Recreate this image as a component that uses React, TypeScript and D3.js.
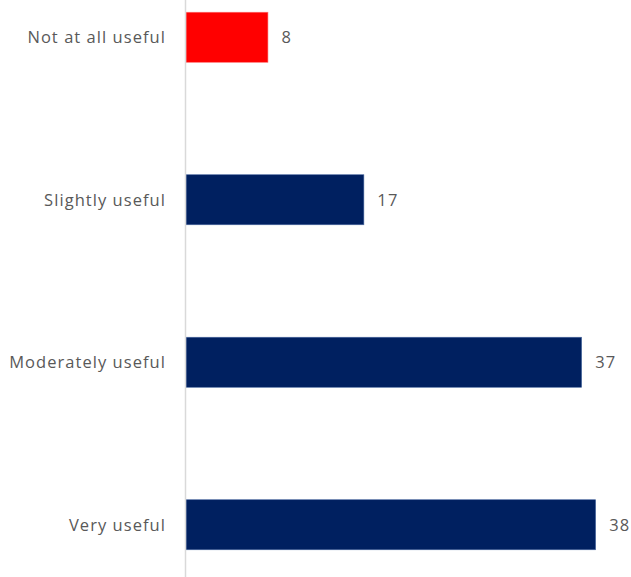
import React from "react";
import * as d3 from "d3";

const categories = ["Not at all useful", "Slightly useful", "Moderately useful", "Very useful"];
const values = [7.6, 16.5, 36.7, 38.0];
const valueLabels = ["8", "17", "37", "38"];
const barColors = ["#FF0000", "#002060", "#002060", "#002060"];

const W = 631;
const H = 577;

export default function App() {
  const x = d3.scaleLinear().domain([0, 40]).range([186, 617.2]);
  const y = d3
    .scaleBand<string>()
    .domain(categories)
    .range([-44, 606])
    .paddingInner(0.692)
    .paddingOuter(0.346);
  const bw = y.bandwidth();
  const font = "'Open Sans', sans-serif";
  return (
    <svg
      width={W}
      height={H}
      style={{ position: "absolute", left: 0, top: 0, background: "#fff" }}
    >
      {categories.map((c, i) => {
        const y0 = y(c)!;
        const cy = y0 + bw / 2;
        return (
          <g key={c}>
            <rect
              x={x(0)}
              y={y0}
              width={x(values[i]) - x(0)}
              height={bw}
              fill={barColors[i]}
              stroke={i === 0 ? "#ff6b6b" : "#4a6aa0"}
              strokeWidth={0.6}
            />
            <text
              x={x(0) - 20}
              y={cy}
              dy="0.36em"
              textAnchor="end"
              fontFamily={font}
              fontSize={16.5}
              letterSpacing={1.05}
              fill="#595959"
            >
              {c}
            </text>
            <text
              x={x(values[i]) + 13.5}
              y={cy}
              dy="0.36em"
              textAnchor="start"
              fontFamily={font}
              fontSize={16.5}
              letterSpacing={1.2}
              fill="#595959"
            >
              {valueLabels[i]}
            </text>
          </g>
        );
      })}
      <line x1={185.5} x2={185.5} y1={0} y2={H} stroke="#d9d9d9" strokeWidth={1.5} />
    </svg>
  );
}
